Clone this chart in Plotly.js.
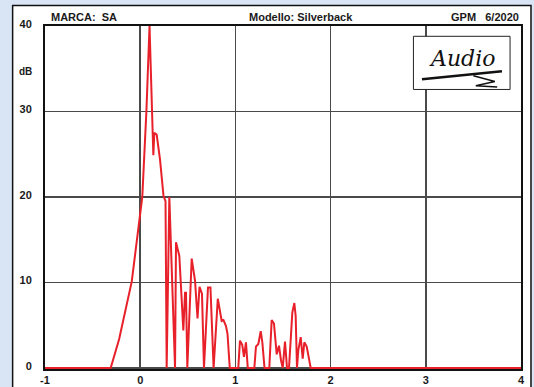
<!DOCTYPE html>
<html>
<head>
<meta charset="utf-8">
<script src="https://cdn.plot.ly/plotly-3.0.1.min.js"></script>
<style>
  html, body { margin: 0; padding: 0; background: #d9e5f4; }
  #chart { width: 534px; height: 387px; }
</style>
</head>
<body>
<div id="chart"></div>
<script>
// Time axis (x) and level in dB (y)
const timeValues = [-1, -0.31, -0.221, -0.089, 0.022, 0.065, 0.098, 0.138, 0.148, 0.173, 0.208, 0.245, 0.266, 0.278,
  0.306, 0.366, 0.376, 0.411, 0.453, 0.471, 0.481, 0.495, 0.541, 0.576, 0.602, 0.623, 0.649, 0.670,
  0.712, 0.738, 0.771, 0.815, 0.856, 0.875, 0.901, 0.917, 0.941, 1.030, 1.048, 1.072, 1.090, 1.111, 1.130,
  1.199, 1.216, 1.241, 1.266, 1.283, 1.306, 1.356, 1.381, 1.405, 1.434, 1.458, 1.479, 1.497, 1.521, 1.542,
  1.563, 1.598, 1.619, 1.633, 1.647, 1.661, 1.686, 1.707, 1.724, 1.749, 1.766, 1.791, 4];
const levelValues = [0, 0, 3.4, 10.1, 20.0, 30.0, 40, 24.9, 27.5, 27.3, 24.4, 20.1, 19.5, 0,
  20.0, 0, 14.7, 13.1, 4.4, 8.8, 8.8, 0, 12.8, 10.2, 5.8, 9.5, 8.7, 0,
  9.4, 9.4, 0, 8.1, 5.5, 5.6, 4.9, 4.0, 0, 0, 3.2, 2.7, 1.3, 3.0, 0,
  0, 2.5, 2.8, 4.3, 3.0, 0, 0, 5.6, 5.2, 1.6, 2.6, 0.9, 0, 3.1, 0,
  0, 6.5, 7.6, 6.1, 0, 2.1, 3.6, 1.1, 3.0, 2.5, 1.5, 0, 0];

const xTickValues = [-1, 0, 1, 2, 3, 4];
const xTickLabels = ['-1', '0', '1', '2', '3', '4'];
const yTickValues = [0, 10, 20, 30, 40];
const yTickLabels = ['0', '10', '20', '30', '40'];

const headerBrand = 'MARCA:\u00a0\u00a0SA';
const headerModel = 'Modello: Silverback';
const headerSource = 'GPM\u00a0\u00a0\u00a06/2020';
const unitLabel = 'dB';
const logoText = 'Audio';

const FONT = 'Liberation Sans, Arial, sans-serif';
const tickFont = { family: FONT, size: 11, color: '#1a1a1a', weight: 'bold' };

const trace = {
  x: timeValues,
  y: levelValues,
  type: 'scatter',
  mode: 'lines',
  line: { color: '#e8202a', width: 2 },
  hoverinfo: 'skip'
};

const layout = {
  width: 534,
  height: 387,
  margin: { l: 45, r: 13, t: 26, b: 18 },
  paper_bgcolor: '#d9e5f4',
  plot_bgcolor: 'rgba(0,0,0,0)',
  showlegend: false,
  xaxis: {
    range: [-1, 4],
    tickvals: xTickValues,
    ticktext: xTickLabels,
    tickfont: tickFont,
    ticks: '',
    showgrid: true,
    gridcolor: '#4a4a4a',
    gridwidth: 1.5,
    zeroline: false,
    showline: true,
    linecolor: '#111',
    linewidth: 2,
    mirror: true,
    layer: 'below traces',
    fixedrange: true
  },
  yaxis: {
    range: [-0.12, 40],
    tickvals: yTickValues,
    ticktext: yTickLabels,
    tickfont: tickFont,
    ticks: '',
    ticklabelstandoff: 9,
    ticklabelshift: -2,
    showgrid: true,
    gridcolor: '#4a4a4a',
    gridwidth: 1.5,
    zeroline: false,
    showline: true,
    linecolor: '#111',
    linewidth: 2,
    mirror: true,
    layer: 'below traces',
    fixedrange: true
  },
  shapes: [
    // outer white panel
    { type: 'rect', xref: 'paper', yref: 'paper', x0: -0.068, x1: 1.021, y0: -0.1, y1: 1.06,
      fillcolor: '#ffffff', line: { color: '#111', width: 1.5 }, layer: 'below' },
    // logo box
    { type: 'rect', xref: 'paper', yref: 'paper', x0: 0.774, x1: 0.977, y0: 0.815, y1: 0.970,
      fillcolor: '#ffffff', line: { color: '#222', width: 1 }, layer: 'above' },
    // logo underline and squiggle
    { type: 'path', xref: 'paper', yref: 'paper',
      path: 'M 0.792,0.845 L 0.960,0.868', line: { color: '#111', width: 2.5 }, layer: 'above' },
    { type: 'path', xref: 'paper', yref: 'paper',
      path: 'M 0.900,0.855 L 0.945,0.838 L 0.905,0.826 L 0.950,0.822', line: { color: '#111', width: 1.5 }, layer: 'above' }
  ],
  annotations: [
    { text: headerBrand, xref: 'paper', yref: 'paper', x: 0.008, y: 1.026, xanchor: 'left', yanchor: 'middle',
      showarrow: false, font: { family: FONT, size: 11, color: '#1a1a1a', weight: 'bold' } },
    { text: headerModel, xref: 'paper', yref: 'paper', x: 0.538, y: 1.026, xanchor: 'center', yanchor: 'middle',
      showarrow: false, font: { family: FONT, size: 11, color: '#1a1a1a', weight: 'bold' } },
    { text: headerSource, xref: 'paper', yref: 'paper', x: 1.0, y: 1.026, xanchor: 'right', yanchor: 'middle',
      showarrow: false, font: { family: FONT, size: 11, color: '#1a1a1a', weight: 'bold' } },
    { text: unitLabel, xref: 'paper', yref: 'paper', x: -0.042, y: 0.866, xanchor: 'center', yanchor: 'middle',
      showarrow: false, font: { family: FONT, size: 10, color: '#1a1a1a', weight: 'bold' } },
    { text: logoText, xref: 'paper', yref: 'paper', x: 0.876, y: 0.905, xanchor: 'center', yanchor: 'middle',
      showarrow: false, textangle: 0,
      font: { family: 'DejaVu Serif, serif', size: 22, color: '#111', style: 'italic' } }
  ]
};

Plotly.newPlot('chart', [trace], layout, { staticPlot: true, displayModeBar: false });
</script>
</body>
</html>
